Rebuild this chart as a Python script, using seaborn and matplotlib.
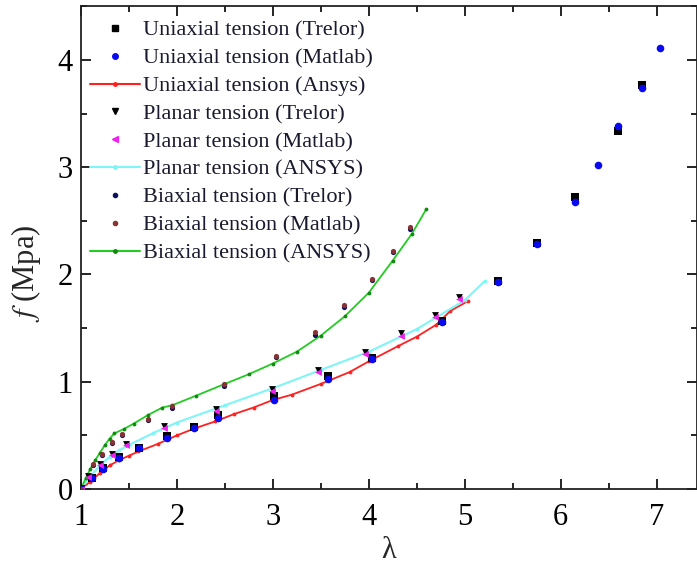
import numpy as np
import pandas as pd
import matplotlib
matplotlib.use("Agg")
import matplotlib.pyplot as plt
import seaborn as sns
from matplotlib.ticker import MultipleLocator
from matplotlib.lines import Line2D

# ---- data ----
uni_trelor_x = [1.0, 1.12, 1.23, 1.40, 1.61, 1.90, 2.18, 2.43, 3.01, 3.58, 4.03, 4.76, 5.35, 5.75, 6.15, 6.60, 6.85]
uni_trelor_y = [0.0, 0.10, 0.20, 0.30, 0.38, 0.49, 0.58, 0.69, 0.87, 1.05, 1.22, 1.57, 1.94, 2.29, 2.72, 3.34, 3.77]
uni_matlab_x = [1.0, 1.12, 1.23, 1.40, 1.61, 1.90, 2.18, 2.43, 3.01, 3.58, 4.03, 4.76, 5.35, 5.75, 6.15, 6.39, 6.60, 6.85, 7.03]
uni_matlab_y = [0.0, 0.10, 0.19, 0.29, 0.38, 0.48, 0.57, 0.66, 0.83, 1.03, 1.21, 1.56, 1.93, 2.28, 2.68, 3.02, 3.38, 3.74, 4.11]
uni_ansys_x = [1.0, 1.1, 1.2, 1.3, 1.4, 1.5, 1.6, 1.8, 2.0, 2.2, 2.4, 2.6, 2.8, 3.0, 3.2, 3.5, 3.8, 4.0, 4.3, 4.5, 4.7, 4.85, 5.03]
uni_ansys_y = [0.0, 0.07, 0.15, 0.22, 0.27, 0.31, 0.35, 0.42, 0.50, 0.57, 0.63, 0.70, 0.76, 0.83, 0.88, 0.98, 1.09, 1.19, 1.33, 1.42, 1.53, 1.66, 1.75]

pla_trelor_x = [1.0, 1.07, 1.20, 1.32, 1.47, 1.87, 2.41, 2.99, 3.47, 3.96, 4.34, 4.69, 4.94]
pla_trelor_y = [0.0, 0.12, 0.23, 0.33, 0.42, 0.59, 0.75, 0.93, 1.11, 1.28, 1.45, 1.62, 1.79]
pla_matlab_x = [1.0, 1.07, 1.20, 1.32, 1.47, 1.87, 2.41, 2.99, 3.47, 3.96, 4.34, 4.69, 4.94]
pla_matlab_y = [0.0, 0.11, 0.22, 0.32, 0.41, 0.57, 0.73, 0.91, 1.09, 1.26, 1.43, 1.60, 1.77]
pla_ansys_x = [1.0, 1.1, 1.2, 1.3, 1.4, 1.5, 1.75, 2.0, 2.5, 3.0, 3.5, 4.0, 4.5, 5.0, 5.21]
pla_ansys_y = [0.0, 0.12, 0.22, 0.30, 0.36, 0.41, 0.52, 0.62, 0.78, 0.94, 1.11, 1.28, 1.49, 1.76, 1.94]

bia_trelor_x = [1.0, 1.13, 1.22, 1.32, 1.43, 1.70, 1.95, 2.49, 3.03, 3.44, 3.74, 4.03, 4.25, 4.43]
bia_trelor_y = [0.0, 0.22, 0.32, 0.43, 0.50, 0.64, 0.76, 0.96, 1.23, 1.44, 1.70, 1.95, 2.21, 2.42]
bia_matlab_x = [1.0, 1.13, 1.22, 1.32, 1.43, 1.70, 1.95, 2.49, 3.03, 3.44, 3.74, 4.03, 4.25, 4.43]
bia_matlab_y = [0.0, 0.23, 0.33, 0.44, 0.51, 0.65, 0.77, 0.98, 1.24, 1.46, 1.72, 1.96, 2.22, 2.44]
bia_ansys_x = [1.0, 1.05, 1.1, 1.15, 1.2, 1.25, 1.3, 1.35, 1.45, 1.55, 1.7, 1.85, 1.95, 2.2, 2.5, 2.75, 3.0, 3.25, 3.5, 3.75, 4.0, 4.25, 4.45, 4.6]
bia_ansys_y = [0.0, 0.10, 0.19, 0.27, 0.34, 0.41, 0.47, 0.52, 0.56, 0.61, 0.69, 0.76, 0.78, 0.87, 0.98, 1.07, 1.17, 1.28, 1.43, 1.61, 1.83, 2.13, 2.38, 2.61]

labels = ["Uniaxial tension (Trelor)", "Uniaxial tension (Matlab)", "Uniaxial tension (Ansys)",
          "Planar tension (Trelor)", "Planar tension (Matlab)", "Planar tension (ANSYS)",
          "Biaxial tension (Trelor)", "Biaxial tension (Matlab)", "Biaxial tension (ANSYS)"]

sns.set_style("ticks")
plt.rcParams['font.family'] = ['Liberation Serif', 'DejaVu Serif']
plt.rcParams['mathtext.fontset'] = 'stix'

fig = plt.figure(figsize=(6.97, 5.68), dpi=100)
ax = fig.add_axes([0.116, 0.139, 0.884, 0.850])

# lines first
sns.lineplot(x=uni_ansys_x, y=uni_ansys_y, ax=ax, color="#ff2020", lw=1.3, marker='o', ms=2,
             mec="#ff2020", sort=False, estimator=None)
sns.lineplot(x=pla_ansys_x, y=pla_ansys_y, ax=ax, color="#7ff5f5", lw=1.5, marker='o', ms=2,
             mec="#7ff5f5", sort=False, estimator=None)
sns.lineplot(x=bia_ansys_x, y=bia_ansys_y, ax=ax, color="#22cc22", lw=1.3, marker='o', ms=2,
             mec="#118811", mfc="#118811", sort=False, estimator=None)

# scatter
sns.scatterplot(x=uni_trelor_x, y=uni_trelor_y, ax=ax, color="black", marker='s', s=28, linewidth=0, zorder=3)
sns.scatterplot(x=uni_matlab_x, y=uni_matlab_y, ax=ax, color="#0a0af0", marker='o', s=30, linewidth=0, zorder=4)
sns.scatterplot(x=pla_trelor_x, y=pla_trelor_y, ax=ax, color="black", marker='v', s=24, linewidth=0, zorder=3)
sns.scatterplot(x=pla_matlab_x, y=pla_matlab_y, ax=ax, color="#ee22ee", marker='<', s=24, linewidth=0, zorder=4)
sns.scatterplot(x=bia_trelor_x, y=bia_trelor_y, ax=ax, color="#101060", marker='o', s=14, linewidth=0, zorder=3)
sns.scatterplot(x=bia_matlab_x, y=bia_matlab_y, ax=ax, color="#883333", marker='o', s=14, linewidth=0, zorder=4)

ax.set_xlim(1, 7.42)
ax.set_ylim(0, 4.5)
ax.xaxis.set_major_locator(MultipleLocator(1))
ax.xaxis.set_minor_locator(MultipleLocator(0.5))
ax.yaxis.set_major_locator(MultipleLocator(1))
ax.yaxis.set_minor_locator(MultipleLocator(0.5))
ax.tick_params(which='both', direction='in', top=True, right=True, width=1.2, colors='black')
ax.tick_params(which='major', length=7, labelsize=22)
ax.tick_params(axis='x', which='major', pad=10)
ax.tick_params(axis='y', which='major', pad=6)
ax.tick_params(which='minor', length=4)
for s in ax.spines.values():
    s.set_linewidth(1.3)
    s.set_color('#222222')

ax.set_xlabel("λ", fontsize=22, labelpad=3)
ax.set_ylabel(r"$f$ (Mpa)", fontsize=22)
ax.yaxis.set_label_coords(-0.062, 0.447)

handles = [
    Line2D([], [], ls='none', marker='s', color='black', ms=5),
    Line2D([], [], ls='none', marker='o', color='#0a0af0', ms=4),
    Line2D([], [], color='#ff2020', lw=1.5, marker='o', ms=2.5),
    Line2D([], [], ls='none', marker='v', color='black', ms=5),
    Line2D([], [], ls='none', marker='<', color='#ee22ee', ms=5),
    Line2D([], [], color='#7ff5f5', lw=1.5, marker='o', ms=2.5),
    Line2D([], [], ls='none', marker='o', color='#101060', ms=3),
    Line2D([], [], ls='none', marker='o', color='#883333', ms=3),
    Line2D([], [], color='#22cc22', lw=1.5, marker='o', ms=2.5, mfc='#118811', mec='#118811'),
]
leg = ax.legend(handles, labels, loc='upper left', frameon=False, fontsize=16,
                handlelength=2.25, handletextpad=0.15, labelspacing=0.33,
                borderaxespad=0.0, bbox_to_anchor=(0.0, 0.99))
for t in leg.get_texts():
    t.set_color('#1a1a2e')

fig.savefig("out.png", dpi=100)
